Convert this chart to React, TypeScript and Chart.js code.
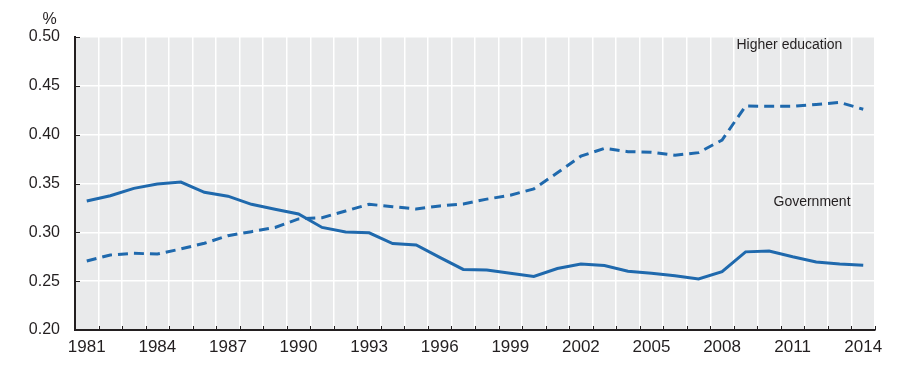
import React, { useEffect, useRef } from "react";
import { Chart, registerables } from "chart.js";

Chart.register(...registerables);

const years: string[] = [
  "1981", "1982", "1983", "1984", "1985", "1986", "1987", "1988", "1989", "1990",
  "1991", "1992", "1993", "1994", "1995", "1996", "1997", "1998", "1999", "2000",
  "2001", "2002", "2003", "2004", "2005", "2006", "2007", "2008", "2009", "2010",
  "2011", "2012", "2013", "2014",
];

const government: number[] = [
  0.332, 0.3375, 0.345, 0.3495, 0.3515, 0.341, 0.337, 0.3287, 0.3236, 0.3188,
  0.305, 0.3003, 0.2995, 0.2885, 0.287, 0.2744, 0.262, 0.2614, 0.258, 0.2548,
  0.263, 0.2676, 0.266, 0.2602, 0.2582, 0.2555, 0.2522, 0.2597, 0.280, 0.2809,
  0.275, 0.2697, 0.2676, 0.2662,
];

const higherEducation: number[] = [
  0.2706, 0.2768, 0.2785, 0.2778, 0.283, 0.2888, 0.2966, 0.3007, 0.305, 0.3137,
  0.315, 0.3218, 0.3287, 0.3263, 0.3239, 0.327, 0.329, 0.334, 0.338, 0.3445,
  0.361, 0.378, 0.386, 0.3826, 0.382, 0.3789, 0.3816, 0.3945, 0.4293, 0.429,
  0.429, 0.431, 0.433, 0.426,
];

const yTicks: number[] = [0.2, 0.25, 0.3, 0.35, 0.4, 0.45, 0.5];

const FONT = "'Liberation Sans', Arial, sans-serif";
const TEXT = "#231f20";
const LINE = "#1f69ad";

const decorPlugin = {
  id: "decor",
  beforeDraw(chart: any) {
    const { ctx, chartArea } = chart;
    ctx.save();
    ctx.fillStyle = "#e9eaeb";
    ctx.fillRect(chartArea.left, chartArea.top, chartArea.right - chartArea.left, chartArea.bottom - chartArea.top);
    ctx.restore();
  },
  beforeDatasetsDraw(chart: any) {
    const { ctx, chartArea, scales } = chart;
    ctx.save();
    ctx.strokeStyle = TEXT;
    ctx.lineWidth = 1;
    // y tick marks (inside)
    yTicks.forEach((v) => {
      if (v === 0.2) return;
      const y = Math.round(scales.y.getPixelForValue(v)) + 0.5;
      ctx.beginPath();
      ctx.moveTo(chartArea.left, y);
      ctx.lineTo(chartArea.left + 5, y);
      ctx.stroke();
    });
    // x tick marks at category boundaries (inside)
    const n = years.length;
    const w = (chartArea.right - chartArea.left) / n;
    for (let i = 1; i <= n; i++) {
      const x = Math.round(chartArea.left + i * w) + 0.5;
      ctx.beginPath();
      ctx.moveTo(x, chartArea.bottom);
      ctx.lineTo(x, chartArea.bottom - 4);
      ctx.stroke();
    }
    ctx.restore();
  },
  afterDraw(chart: any) {
    const { ctx } = chart;
    ctx.save();
    ctx.fillStyle = TEXT;
    ctx.textBaseline = "alphabetic";
    ctx.font = `16px ${FONT}`;
    ctx.textAlign = "center";
    ctx.fillText("%", 49.5, 24);
    ctx.font = `14px ${FONT}`;
    ctx.textAlign = "left";
    ctx.fillText("Higher education", 736.5, 48.5);
    ctx.fillText("Government", 773.5, 206);
    ctx.restore();
  },
};

export default function App() {
  const ref = useRef<HTMLCanvasElement | null>(null);

  useEffect(() => {
    if (!ref.current) return;
    const chart = new Chart(ref.current, {
      type: "line",
      data: {
        labels: years,
        datasets: [
          {
            label: "Government",
            data: government,
            borderColor: LINE,
            borderWidth: 3,
            pointRadius: 0,
            tension: 0,
            fill: false,
          },
          {
            label: "Higher education",
            data: higherEducation,
            borderColor: LINE,
            borderWidth: 3,
            borderDash: [10, 6],
            pointRadius: 0,
            tension: 0,
            fill: false,
          },
        ],
      },
      options: {
        animation: false,
        responsive: false,
        layout: { padding: { top: 37, right: 28, bottom: 0, left: 0 } },
        plugins: {
          legend: { display: false },
          tooltip: { enabled: false },
        },
        scales: {
          x: {
            type: "category",
            offset: true,
            afterFit: (scale: any) => {
              scale.height = 35;
            },
            grid: {
              offset: true,
              color: "#ffffff",
              lineWidth: 1.5,
              drawTicks: false,
            },
            border: { display: true, color: TEXT, width: 2 },
            ticks: {
              autoSkip: false,
              maxRotation: 0,
              padding: 7,
              color: TEXT,
              font: { family: FONT, size: 17 },
              callback: (_v: any, i: number) => (i % 3 === 0 ? years[i] : ""),
            },
          },
          y: {
            min: 0.2,
            max: 0.5,
            afterFit: (scale: any) => {
              scale.width = 75;
            },
            afterBuildTicks: (scale: any) => {
              scale.ticks = yTicks.map((v) => ({ value: v }));
            },
            grid: {
              color: "#ffffff",
              lineWidth: 1.5,
              drawTicks: false,
            },
            border: { display: true, color: TEXT, width: 2 },
            ticks: {
              padding: 15,
              color: TEXT,
              font: { family: FONT, size: 16 },
              callback: (v: any) => Number(v).toFixed(2),
            },
          },
        },
      },
      plugins: [decorPlugin],
    });
    return () => chart.destroy();
  }, []);

  return (
    <div style={{ position: "absolute", left: 0, top: 0, width: 903, height: 365, background: "#ffffff" }}>
      <canvas ref={ref} width={903} height={365} />
    </div>
  );
}
